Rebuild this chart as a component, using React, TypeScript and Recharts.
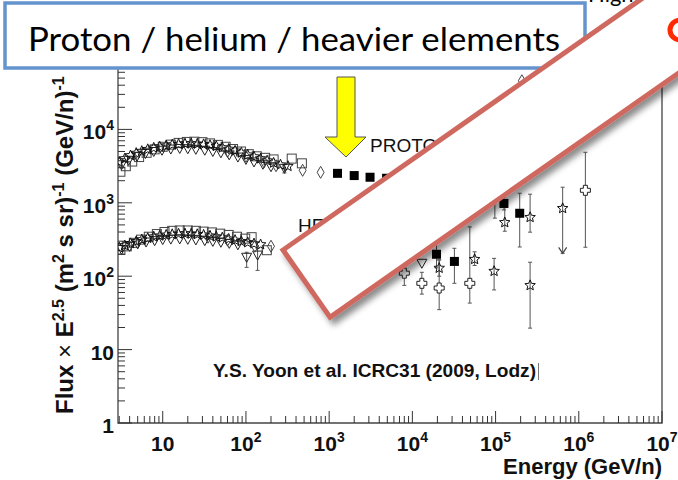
import React from 'react';
import { ScatterChart, Scatter, XAxis, YAxis, ErrorBar, ReferenceArea } from 'recharts';

type Pt = [number, number];
// energy, flux, lower bound, upper bound
type ErrPt = [number, number, number, number];

// axis ranges (GeV/n, flux x E^2.5)
const xDomain: Pt = [2.9, 1e7];
const yDomain: Pt = [1, 1e5];
const xMajor = [10, 1e2, 1e3, 1e4, 1e5, 1e6, 1e7];
const yMajor = [1, 10, 1e2, 1e3, 1e4];

// ---- protons, low energy band ----
const protonStars: Pt[] = [
  [3.0, 3600], [3.5, 4000], [4.1, 4400], [4.8, 4750], [5.6, 5050], [6.6, 5350], [7.8, 5600],
  [9.2, 5800], [11, 6000], [13, 6200], [15.5, 6300], [18.5, 6400], [22, 6400], [26, 6350],
  [31, 6250], [37, 6100], [44, 5900], [52, 5650], [62, 5400], [74, 5100], [88, 4800],
  [105, 4500], [125, 4250], [150, 4000], [180, 3750], [215, 3500], [260, 3300], [320, 3150],
];
const protonSquares: Pt[] = [
  [3.1, 2650], [3.6, 3150], [4.3, 3650], [5.2, 4200], [6.4, 4800], [8, 5350], [10, 5800],
  [12.5, 6200], [15.5, 6550], [19.5, 6750], [24, 6800], [30, 6700], [37, 6450], [46, 6150],
  [57, 5800], [70, 5400], [87, 5000], [108, 4600], [135, 4300], [170, 4100], [215, 3900],
  [355, 4000], [470, 3450],
];
const protonTriangles: Pt[] = [
  [3.2, 3300], [3.9, 3800], [4.9, 4300], [6.2, 4700], [7.8, 5000], [9.8, 5200], [12.5, 5400],
  [16, 5500], [20, 5450], [25, 5350], [32, 5200], [40, 5000], [50, 4800], [63, 4500],
  [80, 4200], [100, 3900], [125, 3600], [160, 3350], [200, 3100],
];
const protonTrianglesErr: ErrPt[] = [[290, 2950, 2550, 3300]];
const protonDiamonds: Pt[] = [
  [60, 5000], [100, 4300], [165, 3600], [230, 3200], [480, 2770], [790, 2600], [2.07e5, 46000],
];
const protonCream: ErrPt[] = [
  [1260, 2520, 2400, 2650], [2000, 2350, 2230, 2480], [3100, 2230, 2100, 2370],
  [4900, 2160, 2000, 2330], [7800, 2000, 1800, 2250], [12000, 1850, 1600, 2150],
  [1.26e5, 980, 800, 1200], [1.95e5, 720, 250, 1350],
];
const protonStarsHigh: ErrPt[] = [
  [9.8e4, 1300, 618, 2000], [1.29e5, 540, 410, 900], [2.6e5, 635, 398, 1310], [6.4e5, 841, 205, 1630],
];
const protonLimit: Pt[] = [[6.4e5, 205]];
const protonCross: ErrPt[] = [[1.2e6, 1480, 248, 4880]];

// ---- helium, low energy band ----
const heliumStars: Pt[] = [
  [3.0, 245], [3.5, 262], [4.1, 280], [4.8, 298], [5.6, 315], [6.6, 330], [7.8, 345],
  [9.2, 355], [11, 365], [13, 372], [15.5, 378], [18.5, 380], [22, 378], [26, 372],
  [31, 365], [37, 355], [44, 345], [52, 335], [62, 322], [74, 310], [88, 298],
  [105, 288], [125, 278], [150, 270],
];
const heliumSquares: Pt[] = [
  [3.1, 228], [3.7, 255], [4.5, 285], [5.5, 315], [6.8, 345], [8.5, 375], [10.5, 400],
  [13, 415], [16, 420], [20, 420], [25, 415], [31, 405], [39, 395], [49, 380], [62, 365],
  [78, 345], [98, 325], [117, 340], [178, 226],
];
const heliumTriangles: Pt[] = [
  [3.2, 232], [4, 255], [5, 275], [6.3, 292], [8, 305], [10, 315], [12.5, 320], [16, 322],
  [20, 318], [25, 312], [32, 305], [40, 298], [50, 290], [63, 280], [80, 268], [1.3e4, 150],
];
const heliumTrianglesErr: ErrPt[] = [[102, 181, 132, 212], [138, 194, 120, 240]];
const heliumDiamonds: Pt[] = [[35, 340], [60, 310], [128, 256], [200, 256]];

// ---- helium, high energy ----
const heliumCream: ErrPt[] = [[1.95e4, 199, 130, 320], [3.2e4, 159, 80, 240]];
const heliumStarsHigh: ErrPt[] = [
  [2.1e4, 129, 100, 170], [5.6e4, 170, 140, 215], [9.6e4, 117, 65, 175], [2.6e5, 75, 19.6, 155],
];
const heliumCrosses: ErrPt[] = [
  [8e3, 110, 75, 135], [1.3e4, 80, 57, 113], [2.1e4, 69, 35, 165], [4.9e4, 80, 43, 470],
];

const pts = (a: Pt[]) => a.map(([e, f]) => ({ e, f }));
const errPts = (a: ErrPt[]) => a.map(([e, f, lo, hi]) => ({ e, f, err: [f - lo, hi - f] }));

// decade ticks plus 2..9 minors inside the domain
const logTicks = (lo: number, hi: number) => {
  const out: number[] = [];
  for (let d = Math.floor(Math.log10(lo)); d <= Math.ceil(Math.log10(hi)); d++) {
    for (let m = 1; m < 10; m++) {
      const v = m * Math.pow(10, d);
      if (v >= lo * 0.999 && v <= hi * 1.001) out.push(v);
    }
  }
  return out;
};
const isMajor = (v: number) => Math.abs(Math.log10(v) - Math.round(Math.log10(v))) < 1e-6;

const FONT = '"Liberation Sans", Arial, Helvetica, sans-serif';

const powLabel = (v: number) => {
  const exp = Math.round(Math.log10(v));
  if (exp === 0) return <tspan>1</tspan>;
  if (exp === 1) return <tspan>10</tspan>;
  return (
    <>
      <tspan>10</tspan>
      <tspan dy={-9} fontSize={14}>{exp}</tspan>
    </>
  );
};

const XTick = (p: any) => {
  const v = p.payload.value;
  const major = isMajor(v);
  return (
    <g>
      <line x1={p.x} x2={p.x} y1={p.y} y2={p.y - (major ? 12 : 7)} stroke="#333" strokeWidth={1} />
      {major && xMajor.some((m) => Math.abs(m - v) / m < 1e-6) && (
        <text x={p.x} y={p.y + 28} textAnchor="middle" fontFamily={FONT} fontWeight="bold" fontSize={21} fill="#111">
          {powLabel(v)}
        </text>
      )}
    </g>
  );
};

const YTick = (p: any) => {
  const v = p.payload.value;
  const major = isMajor(v);
  return (
    <g>
      <line x1={p.x} x2={p.x + (major ? 14 : 7)} y1={p.y} y2={p.y} stroke="#333" strokeWidth={1} />
      {major && yMajor.some((m) => Math.abs(m - v) / m < 1e-6) && (
        <text x={p.x - 4} y={p.y + 10} textAnchor="end" fontFamily={FONT} fontWeight="bold" fontSize={21} fill="#111">
          {powLabel(v)}
        </text>
      )}
    </g>
  );
};

const starPath = (cx: number, cy: number, r: number) => {
  let d = '';
  for (let i = 0; i < 10; i++) {
    const rad = i % 2 === 0 ? r : r * 0.45;
    const a = -Math.PI / 2 + (i * Math.PI) / 5;
    d += (i === 0 ? 'M' : 'L') + (cx + rad * Math.cos(a)).toFixed(2) + ',' + (cy + rad * Math.sin(a)).toFixed(2);
  }
  return d + 'Z';
};

const Star = (p: any) => <path d={starPath(p.cx, p.cy, 5.5)} fill="none" stroke="#111" strokeWidth={1} />;
const OpenSquare = (p: any) => (
  <rect x={p.cx - 4.5} y={p.cy - 4.5} width={9} height={9} fill="none" stroke="#444" strokeWidth={1} />
);
const FilledSquare = (p: any) => <rect x={p.cx - 4.5} y={p.cy - 4.5} width={9} height={9} fill="#000" />;
const DownTriangle = (p: any) => (
  <path d={`M${p.cx - 5},${p.cy - 4}L${p.cx + 5},${p.cy - 4}L${p.cx},${p.cy + 5}Z`} fill="none" stroke="#222" strokeWidth={1} />
);
const Diamond = (p: any) => (
  <path d={`M${p.cx},${p.cy - 6}L${p.cx + 3.5},${p.cy}L${p.cx},${p.cy + 6}L${p.cx - 3.5},${p.cy}Z`} fill="none" stroke="#444" strokeWidth={1} />
);
const Cross = (p: any) => {
  const { cx, cy } = p;
  const a = 2, b = 5;
  const d = `M${cx - a},${cy - b}H${cx + a}V${cy - a}H${cx + b}V${cy + a}H${cx + a}V${cy + b}H${cx - a}V${cy + a}H${cx - b}V${cy - a}H${cx - a}Z`;
  return <path d={d} fill="#fff" stroke="#222" strokeWidth={1} />;
};
const LimitArrow = (p: any) => (
  <path d={`M${p.cx - 4},${p.cy - 6}L${p.cx},${p.cy}L${p.cx + 4},${p.cy - 6}`} fill="none" stroke="#444" strokeWidth={1.2} />
);

const errBar = <ErrorBar dataKey="err" direction="y" width={2} stroke="#555" strokeWidth={1} />;

export default function App() {
  return (
    <div style={{ position: 'absolute', left: 0, top: 0, width: 678, height: 480, background: '#fff' }}>
      <ScatterChart width={678} height={480} margin={{ top: 56, right: 16, bottom: 27, left: 58 }}>
        <XAxis
          type="number"
          dataKey="e"
          scale="log"
          domain={xDomain}
          allowDataOverflow
          ticks={logTicks(xDomain[0], xDomain[1])}
          interval={0}
          tick={XTick}
          tickLine={false}
          tickSize={0}
          tickMargin={0}
          axisLine={false}
          height={30}
        />
        <YAxis
          type="number"
          dataKey="f"
          scale="log"
          domain={yDomain}
          allowDataOverflow
          ticks={logTicks(yDomain[0], yDomain[1])}
          interval={0}
          tick={YTick}
          tickLine={false}
          tickSize={0}
          tickMargin={0}
          axisLine={false}
          width={60}
        />
        <ReferenceArea x1={xDomain[0]} x2={xDomain[1]} y1={yDomain[0]} y2={yDomain[1]} fill="none" stroke="#444" strokeWidth={1.3} />

        <Scatter data={pts(protonSquares)} shape={OpenSquare} isAnimationActive={false} />
        <Scatter data={pts(protonTriangles)} shape={DownTriangle} isAnimationActive={false} />
        <Scatter data={errPts(protonTrianglesErr)} shape={DownTriangle} isAnimationActive={false}>{errBar}</Scatter>
        <Scatter data={pts(protonStars)} shape={Star} isAnimationActive={false} />
        <Scatter data={pts(protonDiamonds)} shape={Diamond} isAnimationActive={false} />
        <Scatter data={errPts(protonCream)} shape={FilledSquare} isAnimationActive={false}>{errBar}</Scatter>
        <Scatter data={errPts(protonStarsHigh)} shape={Star} isAnimationActive={false}>{errBar}</Scatter>
        <Scatter data={pts(protonLimit)} shape={LimitArrow} isAnimationActive={false} />
        <Scatter data={errPts(protonCross)} shape={Cross} isAnimationActive={false}>{errBar}</Scatter>

        <Scatter data={pts(heliumSquares)} shape={OpenSquare} isAnimationActive={false} />
        <Scatter data={pts(heliumTriangles)} shape={DownTriangle} isAnimationActive={false} />
        <Scatter data={errPts(heliumTrianglesErr)} shape={DownTriangle} isAnimationActive={false}>{errBar}</Scatter>
        <Scatter data={pts(heliumStars)} shape={Star} isAnimationActive={false} />
        <Scatter data={pts(heliumDiamonds)} shape={Diamond} isAnimationActive={false} />
        <Scatter data={errPts(heliumCream)} shape={FilledSquare} isAnimationActive={false}>{errBar}</Scatter>
        <Scatter data={errPts(heliumStarsHigh)} shape={Star} isAnimationActive={false}>{errBar}</Scatter>
        <Scatter data={errPts(heliumCrosses)} shape={Cross} isAnimationActive={false}>{errBar}</Scatter>
      </ScatterChart>

      <svg width={678} height={480} style={{ position: 'absolute', left: 0, top: 0, pointerEvents: 'none' }}>
        <defs>
          <filter id="dropShadow" x="-20%" y="-20%" width="150%" height="150%">
            <feDropShadow dx={4} dy={5} stdDeviation={3} floodColor="#000" floodOpacity={0.45} />
          </filter>
        </defs>

        {/* axis titles */}
        <text
          transform="translate(73,414) rotate(-90)"
          fontFamily={FONT}
          fontWeight="bold"
          fontSize={24}
          fill="#111"
        >
          Flux <tspan fontWeight="normal">×</tspan> E
          <tspan dy={-9} fontSize={16}>2.5</tspan>
          <tspan dy={9}>{' (m'}</tspan>
          <tspan dy={-9} fontSize={16}>2</tspan>
          <tspan dy={9}>{' s sr)'}</tspan>
          <tspan dy={-9} fontSize={16}>-1</tspan>
          <tspan dy={9}>{' (GeV/n)'}</tspan>
          <tspan dy={-9} fontSize={16}>-1</tspan>
        </text>
        <text x={662} y={474} textAnchor="end" fontFamily={FONT} fontWeight="bold" fontSize={22} fill="#111">
          Energy (GeV/n)
        </text>

        {/* in-plot labels */}
        <text x={370} y={152} fontFamily={FONT} fontSize={19} fill="#111">PROTONS</text>
        <text x={298} y={232} fontFamily={FONT} fontSize={19} fill="#111">HELIUM</text>
        <text x={213} y={377} fontFamily={FONT} fontWeight="bold" fontSize={19} fill="#111" textLength={323} lengthAdjust="spacingAndGlyphs">
          Y.S. Yoon et al. ICRC31 (2009, Lodz)
        </text>
        <line x1={538.5} x2={538.5} y1={363} y2={380} stroke="#777" strokeWidth={1} />

        {/* title box */}
        <rect x={5} y={3} width={580} height={65} fill="#fff" stroke="#6494CE" strokeWidth={3.5} />
        <text x={28} y={51} fontFamily="Lato, 'Open Sans', sans-serif" fontSize={32} fill="#000" textLength={532} lengthAdjust="spacingAndGlyphs">
          Proton / helium / heavier elements
        </text>

        {/* yellow arrow */}
        <path
          d="M337,77 H355 V137 H366 L346,157 L325,137 H337 Z"
          fill="#FFFF00"
          stroke="#555"
          strokeWidth={1}
        />

        <text x={588} y={2} fontFamily="Lato, 'Open Sans', sans-serif" fontSize={22} fill="#000">Higher</text>

        {/* tilted white panel */}
        <g filter="url(#dropShadow)">
          <g transform="translate(283,250) rotate(-35)">
            <rect x={0} y={0} width={720} height={82} fill="#fff" stroke="#CF6961" strokeWidth={5} />
          </g>
        </g>

        <circle cx={680} cy={30} r={10} fill="none" stroke="#FF2A00" strokeWidth={5} />
      </svg>
    </div>
  );
}
